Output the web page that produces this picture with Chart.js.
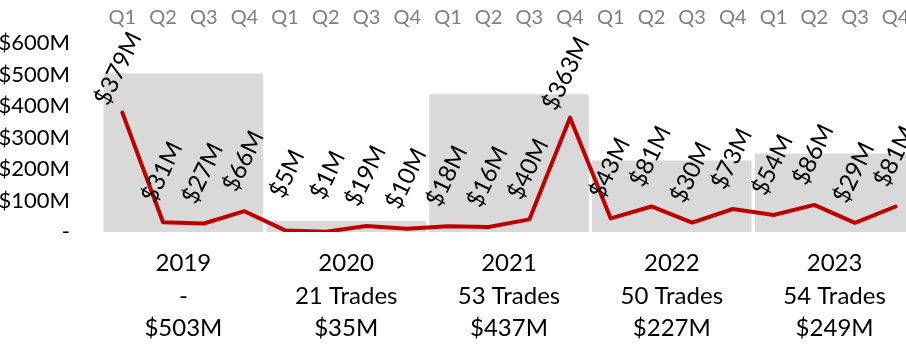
<!DOCTYPE html>
<html>
<head>
<meta charset="utf-8">
<script src="https://cdn.jsdelivr.net/npm/chart.js@4"></script>
<style>
  html, body { margin: 0; padding: 0; background: #fff; overflow: hidden; }
  #wrap { width: 906px; height: 348px; overflow: hidden; }
</style>
</head>
<body>
<div id="wrap"><canvas id="grafico" width="930" height="348"></canvas></div>
<script>
const anos = ['2019', '2020', '2021', '2022', '2023'];
const trades = ['-', '21 Trades', '53 Trades', '50 Trades', '54 Trades'];
const totalAno = ['$503M', '$35M', '$437M', '$227M', '$249M'];
const valorAno = [503, 35, 437, 227, 249];
const trimestres = ['Q1', 'Q2', 'Q3', 'Q4'];
const valorTrimestre = [379, 31, 27, 66, 5, 1, 19, 10, 18, 16, 40, 363, 43, 81, 30, 73, 54, 86, 29, 81];
const yTicks = [0, 100, 200, 300, 400, 500, 600];

const fonte = 'Lato, sans-serif';

// rotulos das colunas de baixo (3 linhas cada)
const rotulosAno = anos.map((ano, i) => [ano, trades[i], totalAno[i]]);
// Q1..Q4 repetido para cada ano
const rotulosTrimestre = [];
anos.forEach(() => trimestres.forEach(q => rotulosTrimestre.push(q)));

// desenha os valores inclinados acima de cada ponto da linha
const rotulosLinha = {
  id: 'rotulosLinha',
  afterDatasetsDraw(chart) {
    const ctx = chart.ctx;
    const meta = chart.getDatasetMeta(1);
    ctx.save();
    ctx.font = '24px ' + fonte;
    ctx.fillStyle = '#000';
    ctx.textAlign = 'right';
    ctx.textBaseline = 'middle';
    meta.data.forEach((ponto, i) => {
      ctx.save();
      ctx.translate(ponto.x + 13, ponto.y - 79);
      ctx.rotate(-64 * Math.PI / 180);
      ctx.fillText('$' + valorTrimestre[i] + 'M', 0, 0);
      ctx.restore();
    });
    ctx.restore();
  }
};

new Chart(document.getElementById('grafico'), {
  data: {
    labels: rotulosTrimestre,
    datasets: [
      {
        type: 'bar',
        data: valorAno,
        xAxisID: 'xAno',
        backgroundColor: '#D9D9D9',
        grouped: false,
        barPercentage: 0.98,
        categoryPercentage: 1,
        order: 2
      },
      {
        type: 'line',
        data: valorTrimestre,
        xAxisID: 'xTri',
        borderColor: '#C00000',
        borderWidth: 4,
        borderJoinStyle: 'round',
        borderCapStyle: 'round',
        pointRadius: 0,
        tension: 0,
        order: 1
      }
    ]
  },
  options: {
    responsive: false,
    animation: false,
    layout: { padding: { left: 0, right: 14, top: 0, bottom: 0 } },
    plugins: { legend: { display: false }, tooltip: { enabled: false } },
    scales: {
      xTri: {
        type: 'category',
        position: 'top',
        labels: rotulosTrimestre,
        offset: true,
        grid: { display: false },
        border: { display: false },
        ticks: { color: '#7F7F7F', font: { family: fonte, size: 20 }, padding: 5, maxRotation: 0, autoSkip: false },
        afterFit(scale) { scale.height = 43; }
      },
      xAno: {
        type: 'category',
        position: 'bottom',
        labels: rotulosAno,
        offset: true,
        grid: { display: false },
        border: { display: false },
        ticks: { color: '#000', font: { family: fonte, size: 24, lineHeight: 1.36 }, padding: 7, maxRotation: 0, autoSkip: false },
        afterFit(scale) { scale.height = 116; }
      },
      y: {
        min: 0,
        max: 600,
        afterBuildTicks(scale) { scale.ticks = yTicks.map(v => ({ value: v })); },
        grid: { display: false },
        border: { display: false },
        ticks: {
          color: '#000',
          font: { family: fonte, size: 22 },
          padding: 24,
          callback: v => v === 0 ? '-' : '$' + v + 'M'
        },
        afterFit(scale) { scale.width = 102; }
      }
    }
  },
  plugins: [rotulosLinha]
});
</script>
</body>
</html>
